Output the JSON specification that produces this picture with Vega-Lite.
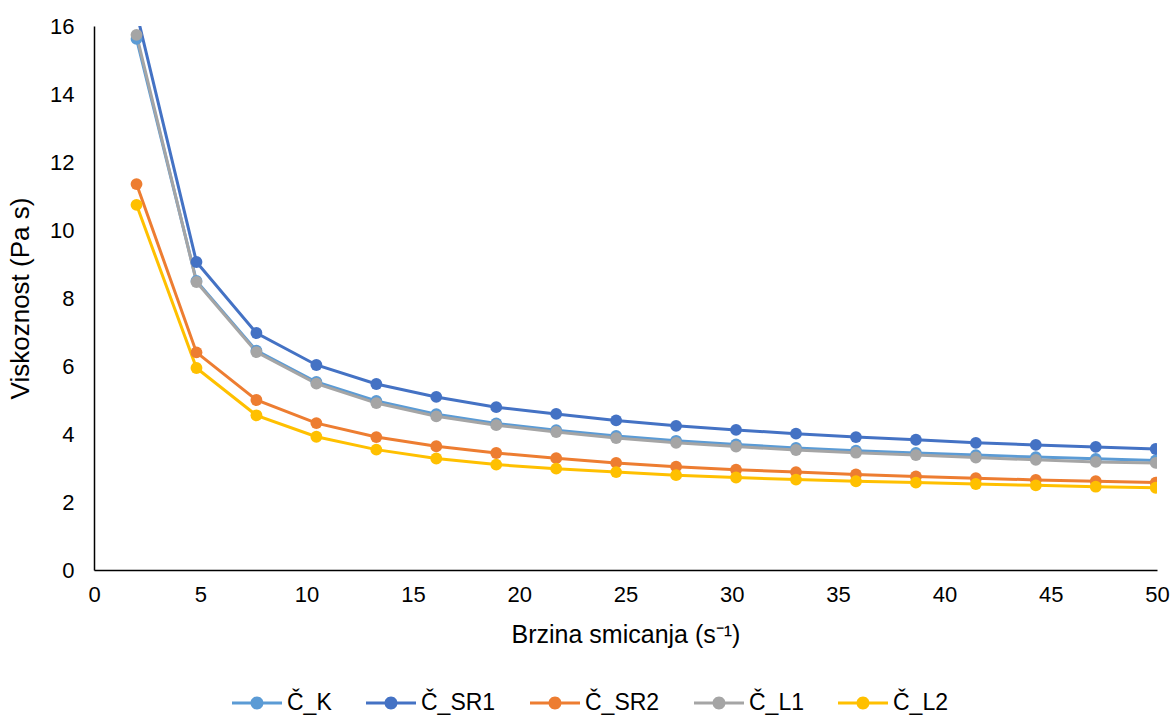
{
  "$schema": "https://vega.github.io/schema/vega-lite/v6.json",
  "width": 1063,
  "height": 544,
  "autosize": {"type": "none"},
  "padding": {"left": 94, "top": 26, "right": 13, "bottom": 146},
  "background": "#ffffff",
  "config": {
    "view": {"stroke": null},
    "font": "Liberation Sans",
    "axis": {
      "grid": false,
      "domainColor": "#000000",
      "domainWidth": 1.5,
      "ticks": false,
      "labelFlush": false,
      "labelFontSize": 22,
      "labelColor": "#000000",
      "labelFont": "Liberation Sans",
      "titleFont": "Liberation Sans",
      "titleFontSize": 25,
      "titleFontWeight": "normal",
      "titleColor": "#000000"
    }
  },
  "data": {
    "values": [
      {"series": "Č_K", "rate": 2.0, "visc": 15.62},
      {"series": "Č_K", "rate": 4.82, "visc": 8.5},
      {"series": "Č_K", "rate": 7.64, "visc": 6.45},
      {"series": "Č_K", "rate": 10.46, "visc": 5.53},
      {"series": "Č_K", "rate": 13.28, "visc": 4.97},
      {"series": "Č_K", "rate": 16.1, "visc": 4.58},
      {"series": "Č_K", "rate": 18.92, "visc": 4.31},
      {"series": "Č_K", "rate": 21.74, "visc": 4.11},
      {"series": "Č_K", "rate": 24.56, "visc": 3.94},
      {"series": "Č_K", "rate": 27.38, "visc": 3.8},
      {"series": "Č_K", "rate": 30.2, "visc": 3.69},
      {"series": "Č_K", "rate": 33.02, "visc": 3.59},
      {"series": "Č_K", "rate": 35.84, "visc": 3.51},
      {"series": "Č_K", "rate": 38.66, "visc": 3.44},
      {"series": "Č_K", "rate": 41.48, "visc": 3.38},
      {"series": "Č_K", "rate": 44.3, "visc": 3.32},
      {"series": "Č_K", "rate": 47.12, "visc": 3.27},
      {"series": "Č_K", "rate": 49.94, "visc": 3.22},

      {"series": "Č_SR1", "rate": 2.0, "visc": 16.4},
      {"series": "Č_SR1", "rate": 4.82, "visc": 9.06},
      {"series": "Č_SR1", "rate": 7.64, "visc": 6.97},
      {"series": "Č_SR1", "rate": 10.46, "visc": 6.03},
      {"series": "Č_SR1", "rate": 13.28, "visc": 5.47},
      {"series": "Č_SR1", "rate": 16.1, "visc": 5.09},
      {"series": "Č_SR1", "rate": 18.92, "visc": 4.79},
      {"series": "Č_SR1", "rate": 21.74, "visc": 4.59},
      {"series": "Č_SR1", "rate": 24.56, "visc": 4.4},
      {"series": "Č_SR1", "rate": 27.38, "visc": 4.24},
      {"series": "Č_SR1", "rate": 30.2, "visc": 4.12},
      {"series": "Č_SR1", "rate": 33.02, "visc": 4.01},
      {"series": "Č_SR1", "rate": 35.84, "visc": 3.91},
      {"series": "Č_SR1", "rate": 38.66, "visc": 3.83},
      {"series": "Č_SR1", "rate": 41.48, "visc": 3.74},
      {"series": "Č_SR1", "rate": 44.3, "visc": 3.68},
      {"series": "Č_SR1", "rate": 47.12, "visc": 3.62},
      {"series": "Č_SR1", "rate": 49.94, "visc": 3.56},

      {"series": "Č_SR2", "rate": 2.0, "visc": 11.35},
      {"series": "Č_SR2", "rate": 4.82, "visc": 6.4},
      {"series": "Č_SR2", "rate": 7.64, "visc": 5.0},
      {"series": "Č_SR2", "rate": 10.46, "visc": 4.32},
      {"series": "Č_SR2", "rate": 13.28, "visc": 3.91},
      {"series": "Č_SR2", "rate": 16.1, "visc": 3.64},
      {"series": "Č_SR2", "rate": 18.92, "visc": 3.44},
      {"series": "Č_SR2", "rate": 21.74, "visc": 3.29},
      {"series": "Č_SR2", "rate": 24.56, "visc": 3.15},
      {"series": "Č_SR2", "rate": 27.38, "visc": 3.04},
      {"series": "Č_SR2", "rate": 30.2, "visc": 2.95},
      {"series": "Č_SR2", "rate": 33.02, "visc": 2.88},
      {"series": "Č_SR2", "rate": 35.84, "visc": 2.81},
      {"series": "Č_SR2", "rate": 38.66, "visc": 2.75},
      {"series": "Č_SR2", "rate": 41.48, "visc": 2.7},
      {"series": "Č_SR2", "rate": 44.3, "visc": 2.65},
      {"series": "Č_SR2", "rate": 47.12, "visc": 2.61},
      {"series": "Č_SR2", "rate": 49.94, "visc": 2.57},

      {"series": "Č_L1", "rate": 2.0, "visc": 15.74},
      {"series": "Č_L1", "rate": 4.82, "visc": 8.47},
      {"series": "Č_L1", "rate": 7.64, "visc": 6.41},
      {"series": "Č_L1", "rate": 10.46, "visc": 5.48},
      {"series": "Č_L1", "rate": 13.28, "visc": 4.91},
      {"series": "Č_L1", "rate": 16.1, "visc": 4.52},
      {"series": "Č_L1", "rate": 18.92, "visc": 4.26},
      {"series": "Č_L1", "rate": 21.74, "visc": 4.06},
      {"series": "Č_L1", "rate": 24.56, "visc": 3.88},
      {"series": "Č_L1", "rate": 27.38, "visc": 3.74},
      {"series": "Č_L1", "rate": 30.2, "visc": 3.63},
      {"series": "Č_L1", "rate": 33.02, "visc": 3.53},
      {"series": "Č_L1", "rate": 35.84, "visc": 3.45},
      {"series": "Č_L1", "rate": 38.66, "visc": 3.38},
      {"series": "Č_L1", "rate": 41.48, "visc": 3.31},
      {"series": "Č_L1", "rate": 44.3, "visc": 3.24},
      {"series": "Č_L1", "rate": 47.12, "visc": 3.18},
      {"series": "Č_L1", "rate": 49.94, "visc": 3.15},

      {"series": "Č_L2", "rate": 2.0, "visc": 10.74},
      {"series": "Č_L2", "rate": 4.82, "visc": 5.94},
      {"series": "Č_L2", "rate": 7.64, "visc": 4.55},
      {"series": "Č_L2", "rate": 10.46, "visc": 3.92},
      {"series": "Č_L2", "rate": 13.28, "visc": 3.54},
      {"series": "Č_L2", "rate": 16.1, "visc": 3.28},
      {"series": "Č_L2", "rate": 18.92, "visc": 3.1},
      {"series": "Č_L2", "rate": 21.74, "visc": 2.98},
      {"series": "Č_L2", "rate": 24.56, "visc": 2.88},
      {"series": "Č_L2", "rate": 27.38, "visc": 2.79},
      {"series": "Č_L2", "rate": 30.2, "visc": 2.72},
      {"series": "Č_L2", "rate": 33.02, "visc": 2.66},
      {"series": "Č_L2", "rate": 35.84, "visc": 2.61},
      {"series": "Č_L2", "rate": 38.66, "visc": 2.57},
      {"series": "Č_L2", "rate": 41.48, "visc": 2.53},
      {"series": "Č_L2", "rate": 44.3, "visc": 2.49},
      {"series": "Č_L2", "rate": 47.12, "visc": 2.45},
      {"series": "Č_L2", "rate": 49.94, "visc": 2.42}
    ]
  },
  "encoding": {
    "x": {
      "field": "rate",
      "type": "quantitative",
      "scale": {"domain": [0, 50], "nice": false, "zero": true},
      "axis": {
        "values": [0, 5, 10, 15, 20, 25, 30, 35, 40, 45, 50],
        "title": "Brzina smicanja (s⁻¹)",
        "labelPadding": 14,
        "titlePadding": 17
      }
    },
    "y": {
      "field": "visc",
      "type": "quantitative",
      "scale": {"domain": [0, 16], "nice": false},
      "axis": {
        "values": [0, 2, 4, 6, 8, 10, 12, 14, 16],
        "title": "Viskoznost (Pa s)",
        "titleFontSize": 26,
        "labelPadding": 20,
        "titlePadding": 16
      }
    },
    "color": {
      "field": "series",
      "type": "nominal",
      "sort": ["Č_K", "Č_SR1", "Č_SR2", "Č_L1", "Č_L2"],
      "scale": {
        "domain": ["Č_K", "Č_SR1", "Č_SR2", "Č_L1", "Č_L2"],
        "range": ["#5B9BD5", "#4472C4", "#ED7D31", "#A5A5A5", "#FFC000"]
      },
      "legend": {
        "orient": "none",
        "direction": "horizontal",
        "legendX": 138,
        "legendY": 652,
        "title": null,
        "labelFontSize": 23,
        "labelColor": "#000000",
        "labelFont": "Liberation Sans",
        "labelOffset": 5,
        "columnPadding": 34,
        "symbolType": "M-1,-0.06L1,-0.06L1,0.06L-1,0.06Z M0.26,0A0.26,0.26 0 1,1 -0.26,0A0.26,0.26 0 1,1 0.26,0Z",
        "symbolSize": 2500,
        "symbolStrokeWidth": 0
      }
    }
  },
  "layer": [
    {"mark": {"type": "line", "strokeWidth": 3, "clip": true}},
    {"mark": {"type": "point", "filled": true, "size": 140, "opacity": 1, "clip": true}}
  ]
}
